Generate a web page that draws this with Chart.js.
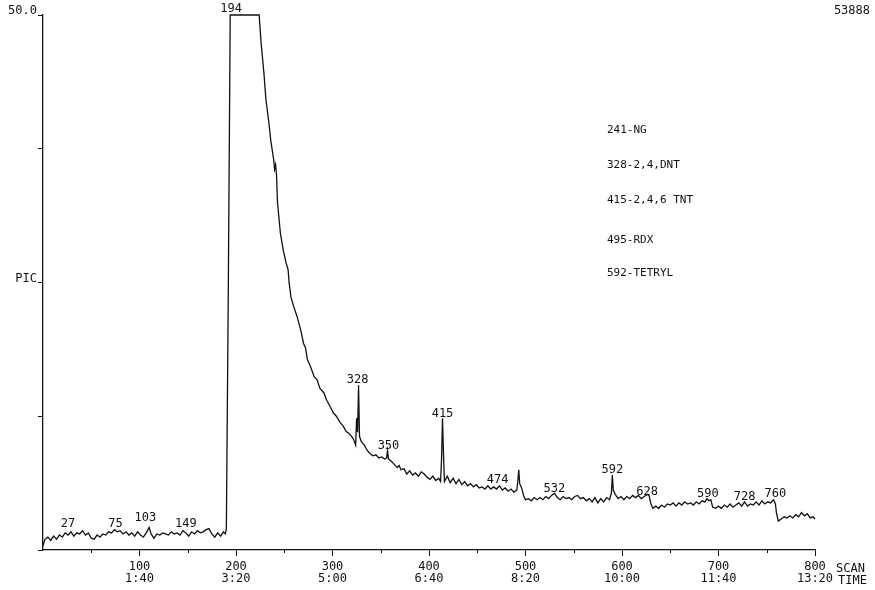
<!DOCTYPE html>
<html>
<head>
<meta charset="utf-8">
<script src="https://cdn.jsdelivr.net/npm/chart.js@4"></script>
<style>body{margin:0;background:#fff}</style>
</head>
<body>
<canvas id="tic" width="875" height="590"></canvas>
<script>
// scan number of each sampled point
const scans = [
  0,2,5,8,11,14,17,20,23,26, 29,32,35,38,41,44,47,50,53,56, 59,62,65,68,71,74,77,80,83,86,
  89,92,95,98,101,104,107,110,112,115, 118,121,124,127,130,133,136,139,142,145,
  148,151,154,157,160,163,166,169,172,175, 178,181,184,187,189,190,
  192,194,224,226,229,231,234,236,239,240, 241,242,243,246,249,252,254,255,257,260,
  263,267,270,272,274,277,281,284,287,291, 294,297,301,304,308,311,314,317,320,322,
  324,325,326,327,328,330,
  333,336,339,342,345,348,351,354,356,357, 358,361,364,367,369,371,374,377,380,383,
  386,389,392,395,398,401,404,407,410,412, 413,414,415,416,
  419,422,425,428,431,434,437,440,443,446, 449,452,455,458,461,464,467,470,473,476,
  479,482,485,488,491,492,493,494,496,498,
  500,503,506,509,512,515,518,521,524,527, 530,533,536,539,542,545,548,551,554,557,
  560,563,566,569,572,575,578,581,584,587, 589,590,591,593,596,599,602,605,608,611,
  614,617,620,623,626,628,
  630,632,635,638,641,644,647,650,653,656, 659,662,665,668,671,674,677,680,683,686,
  688,690,692,694,697,700,703,706,709,712, 715,718,721,724,727,730,733,736,739,742,
  745,748,751,754,757,759,
  760,762,765,768,771,774,777,780,783,786, 789,792,795,798,800
];
// total ion current (full scale 50.0)
const tic = [
  0.4,1.0,1.2,0.9,1.3,1.0,1.4,1.2,1.6,1.4, 1.7,1.3,1.6,1.5,1.8,1.4,1.6,1.1,1.0,1.4, 1.2,1.5,1.4,1.7,1.6,1.9,1.7,1.8,1.5,1.7,
  1.4,1.6,1.3,1.7,1.4,1.2,1.6,2.1,1.5,1.1, 1.5,1.4,1.6,1.5,1.4,1.7,1.5,1.6,1.4,1.8,
  1.6,1.3,1.7,1.5,1.8,1.6,1.7,1.9,2.0,1.5, 1.2,1.6,1.3,1.7,1.5,2.0,
  24,50,50,47.4,44.5,42.1,40.0,38.3,36.5,35.6, 36.0,35.0,32.5,29.6,28.0,26.8,26.2,25.0,23.6,22.7,
  21.9,20.6,19.3,18.9,17.8,17.2,16.2,15.9,15.1,14.7, 14.0,13.5,12.8,12.5,11.9,11.6,11.1,10.9,10.6,10.3,
  9.8,12.3,11.0,15.4,10.6,10.1,
  9.8,9.3,9.0,8.8,8.9,8.6,8.7,8.5,8.6,9.3, 8.5,8.3,8.0,7.7,7.9,7.5,7.6,7.1,7.4,7.0,
  7.2,6.9,7.3,7.1,6.8,6.6,6.9,6.5,6.7,6.4, 8.5,12.3,9.0,6.4,
  6.9,6.3,6.7,6.2,6.6,6.1,6.4,6.0,6.2,5.9, 6.1,5.8,5.9,5.7,6.0,5.7,5.9,5.7,6.0,5.6,
  5.8,5.5,5.7,5.4,5.6,6.4,7.5,6.2,5.8,5.1,
  4.7,4.8,4.6,4.9,4.7,4.9,4.7,5.0,4.8,5.1, 5.3,4.9,4.7,5.0,4.8,4.9,4.7,5.0,5.1,4.8,
  4.9,4.6,4.8,4.5,4.9,4.4,4.8,4.5,4.9,4.7, 5.3,7.0,5.6,5.2,4.8,5.0,4.7,5.0,4.8,5.1,
  4.9,5.1,4.8,5.0,5.2,5.1,
  4.3,3.9,4.1,3.9,4.2,4.0,4.3,4.2,4.4,4.1, 4.4,4.2,4.5,4.3,4.4,4.2,4.5,4.3,4.6,4.5,
  4.8,4.6,4.7,4.0,3.9,4.1,3.9,4.2,4.0,4.3, 4.0,4.2,4.4,4.1,4.5,4.1,4.3,4.2,4.5,4.2,
  4.6,4.3,4.5,4.4,4.7,4.3,
  3.5,2.7,2.9,3.1,3.0,3.2,3.0,3.3,3.1,3.5, 3.2,3.4,3.0,3.1,2.9
];

const peakScans = [26, 75, 106, 148, 195, 326, 358, 414, 471, 530, 590, 626, 689, 727, 759];
const peakTags = ["27", "75", "103", "149", "194", "328", "350", "415", "474", "532", "592", "628", "590", "728", "760"];
const peakTops = [2.15, 2.15, 2.7, 2.15, 50.3, 15.6, 9.4, 12.4, 6.3, 5.4, 7.2, 5.1, 5.0, 4.7, 4.95];

const scanTicks = [100, 200, 300, 400, 500, 600, 700, 800];
const timeTicks = ["1:40", "3:20", "5:00", "6:40", "8:20", "10:00", "11:40", "13:20"];

const compounds = ["241-NG", "328-2,4,DNT", "415-2,4,6 TNT", "495-RDX", "592-TETRYL"];

const MONO = '"DejaVu Sans Mono", monospace';
const INK = '#111';

const annotate = {
  id: 'annotate',
  afterDraw(chart) {
    const ctx = chart.ctx, x = chart.scales.x, y = chart.scales.y;
    ctx.save();
    ctx.fillStyle = INK;
    ctx.font = '12px ' + MONO;
    ctx.textAlign = 'center';
    ctx.textBaseline = 'alphabetic';
    peakTags.forEach((t, i) => {
      ctx.fillText(t, x.getPixelForValue(peakScans[i]), y.getPixelForValue(peakTops[i]));
    });

    // minor ticks at the 50s
    ctx.strokeStyle = INK;
    ctx.lineWidth = 1;
    for (let s = 50; s < 800; s += 100) {
      const px = Math.round(x.getPixelForValue(s)) + 0.5;
      ctx.beginPath();
      ctx.moveTo(px, y.bottom);
      ctx.lineTo(px, y.bottom + 3);
      ctx.stroke();
    }

    ctx.textAlign = 'left';
    ctx.font = '11px ' + MONO;
    const rows = [133, 168, 203, 243, 276];
    compounds.forEach((c, i) => ctx.fillText(c, 607, rows[i]));

    ctx.font = '12px ' + MONO;
    ctx.fillText('SCAN', 836, 572);
    ctx.fillText('TIME', 838, 584);
    ctx.textAlign = 'right';
    ctx.fillText('53888', 870, 14);
    ctx.restore();
  }
};

new Chart('tic', {
  type: 'line',
  data: {
    datasets: [{
      data: scans.map((s, i) => ({ x: s, y: tic[i] })),
      borderColor: INK,
      borderWidth: 1.3,
      pointRadius: 0,
      tension: 0,
      fill: false,
      clip: 4
    }]
  },
  options: {
    responsive: false,
    animation: false,
    devicePixelRatio: 1,
    layout: { padding: { top: 15, right: 60, left: 0, bottom: 0 } },
    plugins: { legend: { display: false }, tooltip: { enabled: false } },
    scales: {
      x: {
        type: 'linear',
        min: 0,
        max: 800,
        afterFit(s) { s.height = 40; },
        border: { color: INK, width: 1.3 },
        grid: {
          drawOnChartArea: false,
          tickLength: 6,
          tickColor: c => (c.tick && c.tick.value > 0) ? INK : 'rgba(0,0,0,0)'
        },
        ticks: {
          stepSize: 100,
          autoSkip: false,
          maxRotation: 0,
          padding: 5,
          color: INK,
          font: { family: MONO, size: 12, lineHeight: 1.0 },
          callback: v => {
            const i = scanTicks.indexOf(v);
            return i < 0 ? '' : [String(v), timeTicks[i]];
          }
        }
      },
      y: {
        min: 0,
        max: 50,
        afterFit(s) { s.width = 43; },
        border: { color: INK, width: 1.3 },
        grid: { drawOnChartArea: false, tickLength: 5, tickColor: INK },
        ticks: {
          stepSize: 12.5,
          padding: 1,
          labelOffset: -4,
          color: INK,
          font: { family: MONO, size: 12 },
          callback: v => v === 50 ? '50.0' : (v === 25 ? 'PIC' : '')
        }
      }
    }
  },
  plugins: [annotate]
});
</script>
</body>
</html>
